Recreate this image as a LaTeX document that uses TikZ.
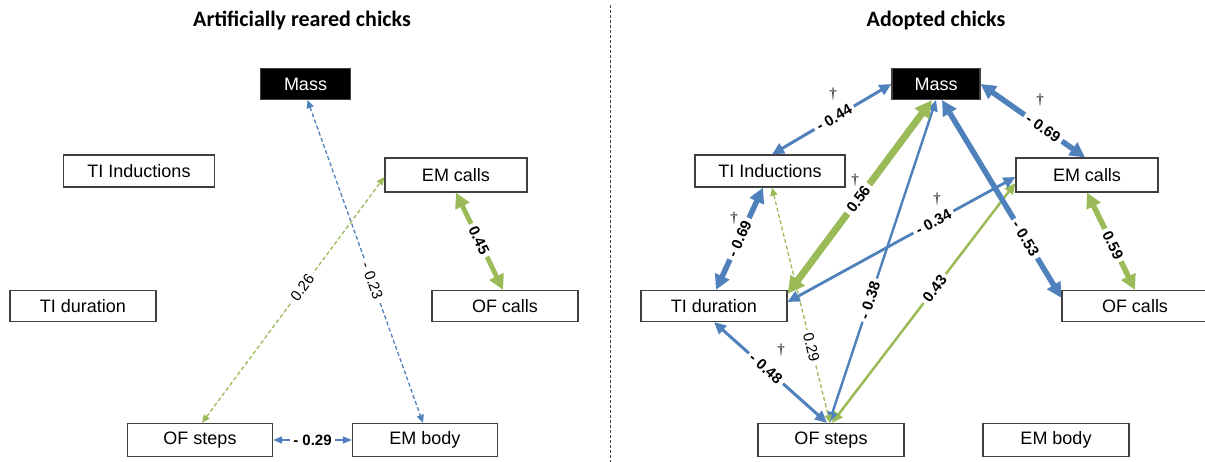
\documentclass[tikz,border=0pt]{standalone}
\usepackage{fontspec}
\setmainfont{Liberation Sans}
\newfontfamily\titlefont{Carlito}
\newfontfamily\dagfont{Liberation Serif}
\usetikzlibrary{arrows.meta,calc}
\definecolor{oblue}{HTML}{4F81BD}
\definecolor{ogreen}{HTML}{9BBB59}
\definecolor{boxgray}{HTML}{404040}
\begin{document}
\begin{tikzpicture}[x=1pt,y=-1pt,
  box/.style={draw=boxgray, line width=1.2pt, fill=white, text=black, inner sep=0pt, minimum height=32pt, font=\fontsize{18}{20}\selectfont},
  massbox/.style={box, fill=black, text=white},
  ttl/.style={font=\titlefont\bfseries\fontsize{22}{26}\selectfont, anchor=base},
  lab/.style={fill=white, text=black, inner xsep=3.5pt, inner ysep=1.5pt, sloped, font=\bfseries\fontsize{15}{16}\selectfont},
  labn/.style={fill=white, text=black, inner xsep=3.5pt, inner ysep=1.5pt, sloped, font=\fontsize{15}{16}\selectfont},
  dag/.style={text=black, font=\dagfont\fontsize{15}{16}\selectfont, inner sep=0pt},
  thinarr/.style={line width=1.3pt, dash pattern=on 4pt off 2.5pt, {Triangle[length=8pt,width=7pt]}-{Triangle[length=8pt,width=7pt]}},
  solthin/.style={line width=1.6pt, {Triangle[length=9pt,width=7pt]}-{Triangle[length=9pt,width=7pt]}},
  medarr/.style={line width=3pt, {Triangle[length=12pt,width=11pt]}-{Triangle[length=12pt,width=11pt]}},
  medlarr/.style={line width=2.4pt, {Triangle[length=11pt,width=10pt]}-{Triangle[length=11pt,width=10pt]}},
  thickarr/.style={line width=5.5pt, {Triangle[length=15pt,width=15pt]}-{Triangle[length=15pt,width=15pt]}},
  xthickarr/.style={line width=7pt, {Triangle[length=17pt,width=17pt]}-{Triangle[length=17pt,width=17pt]}}
]
\useasboundingbox (0,0) rectangle (1205,462);
\clip (0,0) rectangle (1205,462);
\fill[white] (0,0) rectangle (1205,462);

% titles
\node[ttl] (t1) at (302,27) {Artificially reared chicks};
\node[ttl] (t2) at (936,27) {Adopted chicks};

% divider
\coordinate (dv1) at (610,5);
\coordinate (dv2) at (610,462);
\draw[boxgray, line width=0.8pt, dash pattern=on 3pt off 2pt] (dv1) -- (dv2);

% left boxes
\node[massbox, minimum width=90pt, minimum height=31pt] (LMass) at (305.5,84) {Mass};
\node[box, minimum width=151pt] (LTII) at (139,171) {TI Inductions};
\node[box, minimum width=142pt, minimum height=34pt] (LEMc) at (456,175) {EM calls};
\node[box, minimum width=146pt, minimum height=31pt] (LTId) at (83,306) {TI duration};
\node[box, minimum width=146pt, minimum height=31pt] (LOFc) at (505,306) {OF calls};
\node[box, minimum width=145pt, minimum height=33pt] (LOFs) at (200,440) {OF steps};
\node[box, minimum width=145pt, minimum height=33pt] (LEMb) at (425,440) {EM body};

% right boxes
\node[massbox, minimum width=88pt, minimum height=31pt] (RMass) at (936,84) {Mass};
\node[box, minimum width=150pt] (RTII) at (770,171) {TI Inductions};
\node[box, minimum width=142pt, minimum height=34pt] (REMc) at (1087,175) {EM calls};
\node[box, minimum width=146pt, minimum height=31pt] (RTId) at (714,306) {TI duration};
\node[box, minimum width=146pt, minimum height=31pt] (ROFc) at (1135,306) {OF calls};
\node[box, minimum width=146pt, minimum height=33pt] (ROFs) at (831,440) {OF steps};
\node[box, minimum width=146pt, minimum height=33pt] (REMb) at (1056,440) {EM body};

% left edges
\draw[oblue, thinarr] ([xshift=2pt]LMass.south) -- node[labn, pos=0.56] {- 0.23} ([xshift=-2pt]LEMb.north);
\draw[ogreen, thinarr] ([xshift=2pt]LOFs.north) -- node[labn, pos=0.55] {0.26} ([yshift=-2pt]LEMc.west);
\draw[ogreen, thickarr, line width=4.8pt] (LEMc.south) -- node[lab, pos=0.49] {0.45} ([xshift=-2pt]LOFc.north);
\draw[oblue, solthin] (LOFs.east) -- node[lab, sloped=false] {- 0.29} (LEMb.west);

% right edges
\draw[ogreen, medlarr, line width=2.5pt] ([xshift=1pt]ROFs.north) -- node[lab, pos=0.56] {0.43} ([yshift=-8pt]REMc.west);
\draw[oblue, medlarr] (RMass.south) -- node[lab, pos=0.62] {- 0.38} ([xshift=-2pt]ROFs.north);
\draw[ogreen, thinarr] ([xshift=2pt]RTII.south) -- node[labn, pos=0.68] {0.29} ([xshift=-1pt]ROFs.north);
\draw[oblue, medarr] (RTId.south) -- node[lab, pos=0.46] {- 0.48} ([xshift=-4pt]ROFs.north);
\draw[oblue, medarr, line width=2.8pt] ([yshift=4pt]RTId.east) -- node[lab, pos=0.64] {- 0.34} ([yshift=-2pt]REMc.west);
\draw[oblue, medarr] ([xshift=2pt]RTII.north) -- node[lab, pos=0.52] {- 0.44} (RMass.west);
\draw[oblue, thickarr] (RMass.east) -- node[lab, pos=0.6] {- 0.69} ([xshift=-2pt]REMc.north);
\draw[oblue, thickarr] ([xshift=-7pt]RTII.south) -- node[lab, pos=0.5] {- 0.69} ([xshift=2pt]RTId.north);
\draw[oblue, thickarr] ([xshift=6pt]RMass.south) -- node[lab, pos=0.7] {- 0.53} ([yshift=-8pt]ROFc.north west);
\draw[ogreen, xthickarr] ([xshift=-4pt]RMass.south) -- node[lab, pos=0.51] {0.56} ([yshift=-4pt]RTId.north east);
\draw[ogreen, thickarr] (REMc.south) -- node[lab, pos=0.54] {0.59} (ROFc.north);

% daggers
\node[dag] (dg1) at (833,94) {†};
\node[dag] (dg2) at (1040,100) {†};
\node[dag] (dg3) at (734,218) {†};
\node[dag] (dg4) at (855,180) {†};
\node[dag] (dg5) at (937,199) {†};
\node[dag] (dg6) at (781,350) {†};
\end{tikzpicture}
\end{document}
